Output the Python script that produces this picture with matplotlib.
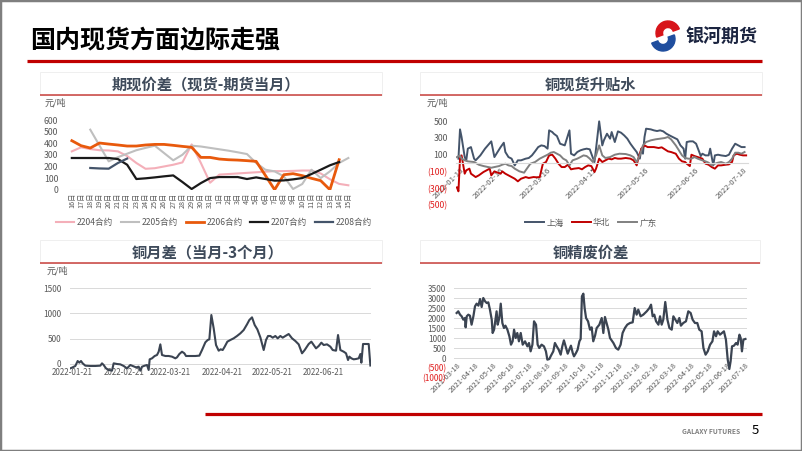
import numpy as np
import matplotlib
matplotlib.use('Agg')
import matplotlib.pyplot as plt
from matplotlib.lines import Line2D
from matplotlib.patches import Rectangle, Wedge

plt.rcParams['font.family'] = ['Noto Sans CJK SC', 'DejaVu Sans']
plt.rcParams['axes.unicode_minus'] = False

nan = np.nan

# ---------------- chart 1 : 期现价差 ----------------
cat1 = ['16日', '17日', '18日', '19日', '20日', '21日', '22日', '23日', '24日', '25日',
        '26日', '27日', '28日', '29日', '30日', '31日', '1日', '2日', '3日', '4日',
        '5日', '6日', '7日', '8日', '9日', '10日', '11日', '12日', '13日', '14日', '15日']
c2204 = [330, 365, 350, 340, 338, 330, 290, 230, 180, 185, 200, 215, 235, 390, 230, 60,
         130, 135, 140, 145, 150, 155, 160, 160, 162, 165, 165, 140, 90, 50, 38]
c2205 = [nan, nan, 517, 380, 244, 280, 310, 340, 360, 379, 316, 253, 301, 379, 372, 360,
         348, 336, 322, 307, 230, 172, 158, 115, 6, 49, 172, 100, 158, 230, 273]
c2206 = [422, 379, 359, 402, 393, 385, 376, 376, 385, 390, 390, 382, 373, 365, 278, 278,
         264, 258, 255, 250, 244, 123, 0, 129, 138, 121, 98, 78, 0, 258, nan]
c2207 = [273, 273, 273, 273, 273, 264, 215, 92, 98, 106, 115, 123, 66, 6, 57, 100,
         109, 109, 109, 92, 106, 92, 78, 80, 89, 100, 135, 172, 210, 238, nan]
c2208 = [nan, nan, 187, 183, 181, 230, 268, nan, nan, nan, nan, nan, nan, nan, nan, nan,
         nan, nan, nan, nan, nan, nan, nan, nan, nan, nan, nan, nan, nan, nan, nan]
names1 = ['2204合约', '2205合约', '2206合约', '2207合约', '2208合约']

# ---------------- chart 2 : 铜现货升贴水 (days from 2022-01-18) ----------------
sh_pts = [(-1, 52), (0, 401), (1, 309), (3, 71), (4, 32), (5, 171), (7, 190), (9, 52), (10, 32),
          (13, 91), (16, 171), (20, 258), (22, 71), (24, 131), (26, 190), (28, 242), (29, 131),
          (31, 71), (33, 52), (35, -28), (37, 32), (39, 32), (42, 52), (44, 60), (46, 91),
          (48, 139), (50, 190), (52, 210), (54, 202), (56, 171), (57, 389), (59, 369), (60, 349),
          (62, 321), (64, 230), (67, 210), (68, 270), (70, 389), (71, 111), (73, 91), (75, 131),
          (77, 151), (79, 163), (81, 171), (83, 163), (84, 111), (86, 12), (87, 171), (89, 496),
          (91, 210), (92, 270), (94, 349), (96, 290), (97, 369), (99, 250), (101, 377), (103, 361),
          (105, 329), (107, 290), (109, 230), (111, 179), (113, 131), (115, 52), (116, 171),
          (117, 111), (118, 310), (119, 409), (122, 401), (124, 389), (126, 381), (128, 389),
          (130, 377), (132, 349), (134, 329), (136, 310), (139, 282), (141, 210), (143, 171),
          (144, 52), (145, 250), (147, 258), (149, 258), (151, 230), (154, 83), (155, 111),
          (157, 91), (159, 91), (160, 171), (162, -28), (163, 91), (165, 99), (167, 91), (170, 83),
          (172, 99), (174, 171), (176, 230), (178, 210), (180, 190), (182, 190)]
hb_pts = [(-2, -290), (-1, -337), (0, 52), (1, 91), (3, -127), (4, -87), (6, -67), (7, -127),
          (10, -167), (12, -147), (15, -107), (17, -87), (19, -67), (20, -147), (22, -99),
          (23, -107), (26, -127), (27, -99), (29, -127), (31, -147), (33, -167), (35, -187),
          (37, -218), (39, -187), (42, -167), (44, -178), (47, -167), (49, -170), (51, -167),
          (53, -8), (55, 12), (57, 91), (59, 99), (61, 52), (63, -8), (65, -48), (67, -48),
          (69, -20), (71, -75), (73, -67), (76, -60), (78, -75), (80, -48), (82, -28), (84, -36),
          (86, -107), (87, -67), (89, 52), (91, 12), (93, 32), (95, 52), (97, 44), (99, 60),
          (101, 52), (103, 52), (106, 60), (109, 52), (111, 32), (113, -28), (114, 52), (116, 171),
          (118, 210), (120, 190), (124, 190), (127, 179), (129, 187), (131, 163), (133, 139),
          (135, 131), (138, 111), (140, 52), (142, 20), (144, 12), (145, -8), (147, -36), (148, 99),
          (150, 83), (152, 71), (155, 52), (157, -8), (159, -20), (161, -48), (163, -67), (165, -28),
          (167, -28), (170, -20), (172, -16), (174, 12), (175, 91), (177, 111), (179, 99), (181, 91),
          (183, 91)]
gd_pts = [(-2, 71), (0, 91), (1, 52), (3, 32), (5, 20), (9, 12), (12, -20), (15, -36), (18, -48),
          (20, -56), (22, -48), (25, -36), (27, -20), (29, -8), (31, -28), (33, -36), (35, -67),
          (38, -99), (41, -115), (42, -87), (45, -8), (48, 12), (51, 52), (53, 71), (56, 99),
          (58, 123), (60, 131), (62, 111), (64, 91), (66, 52), (68, 32), (70, -28), (72, 32),
          (75, 52), (77, 71), (79, 91), (81, 83), (83, 52), (85, 12), (87, 91), (89, 210), (91, 91),
          (93, 60), (96, 71), (99, 99), (102, 111), (106, 107), (109, 91), (111, 71), (113, 12),
          (115, 91), (117, 210), (119, 250), (122, 270), (125, 282), (128, 290), (131, 298),
          (133, 310), (135, 282), (138, 210), (140, 151), (142, 91), (144, 60), (146, 52),
          (148, 52), (150, 71), (152, 52), (155, 32), (157, 20), (159, 4), (161, -28), (163, -8),
          (165, 4), (167, 12), (170, -8), (172, 12), (174, 52), (176, 123), (178, 123), (180, 111),
          (182, 131)]
names2 = ['上海', '华北', '广东']
tick2_pos = [0, 25.6, 55.6, 85, 118, 150, 181]
tick2_lab = ['2022-01-18', '2022-02-16', '2022-03-16', '2022-04-15', '2022-05-16',
             '2022-06-16', '2022-07-18']

# ---------------- chart 3 : 铜月差 (days from 2022-01-21) ----------------
yc_pts = [(-1, -86), (0.4, -66), (2, -39), (3.4, 59), (4.4, 26), (5.4, 59), (6.4, 13), (8, -33),
          (11, -39), (14, -39), (17, -33), (18, 13), (19, -20), (20.4, -86), (22, -118),
          (24, -132), (25, 13), (27, 0), (29, -7), (31, -39), (33, -86), (35, -20), (36.4, -39),
          (38.4, -66), (40, -53), (41, -132), (42, -53), (43.6, -33), (45, -20), (46, -118),
          (46.6, 92), (48, 112), (49.6, 158), (51, 178), (52, 243), (53, 388), (54, 178), (56, 158),
          (58, 158), (60, 145), (62, 112), (63, 132), (64.4, 197), (66, 243), (67.4, 211),
          (68.4, 158), (71, 158), (74, 158), (76.4, 165), (78, 276), (80, 428), (81.4, 474),
          (82.4, 487), (83.6, 967), (85, 704), (86.4, 375), (88, 263), (89.2, 290), (90.4, 276),
          (91.6, 342), (93.2, 441), (95, 474), (97, 507), (99, 553), (101, 605), (103, 671),
          (105, 783), (106.4, 869), (108, 921), (109.6, 770), (111.2, 684), (113, 526), (115, 276),
          (116.4, 474), (117.6, 553), (119, 553), (120.4, 520), (122, 553), (123.4, 507),
          (125, 553), (126.4, 520), (128, 553), (130, 592), (132, 507), (134, 454), (136, 388),
          (138, 211), (139.6, 276), (142, 395), (143.6, 441), (145, 375), (146.4, 309), (148, 355),
          (149.6, 421), (151, 375), (153, 388), (155, 342), (156.4, 276), (158.4, 263),
          (159.6, 572), (161, 276), (163, 243), (164.4, 211), (165.6, 79), (166.4, 145),
          (167.6, 112), (169, 92), (170.4, 99), (172, 112), (173, 197), (173.6, 26), (174.6, 395),
          (176.4, 395), (178, 395), (179, -30)]
tick3_pos = [0, 31, 59, 90, 120, 151]
tick3_lab = ['2022-01-21', '2022-02-21', '2022-03-21', '2022-04-21', '2022-05-21', '2022-06-21']

# ---------------- chart 4 : 铜精废价差 (months from 2021-03-18) ----------------
jf_pts = [(-0.02, 2250), (0.07, 2334), (0.17, 2167), (0.26, 2084), (0.35, 1917), (0.44, 2000),
          (0.48, 1534), (0.54, 2084), (0.63, 2167), (0.72, 2117), (0.81, 1667), (0.91, 2084),
          (1.0, 2584), (1.09, 2717), (1.19, 2617), (1.28, 2950), (1.37, 2550), (1.46, 3000),
          (1.56, 2834), (1.65, 2750), (1.74, 2784), (1.83, 2417), (1.93, 1917), (1.98, 1250),
          (2.06, 1417), (2.11, 1750), (2.20, 2334), (2.26, 1667), (2.35, 2000), (2.43, 2717),
          (2.52, 1750), (2.61, 1500), (2.69, 1617), (2.80, 1417), (2.91, 1084), (3.0, 667),
          (3.09, 834), (3.17, 1417), (3.26, 1000), (3.35, 1250), (3.44, 834), (3.54, 1250),
          (3.65, 667), (3.78, 834), (3.91, 583), (4.0, 750), (4.09, 333), (4.19, 667), (4.28, 1834),
          (4.39, 1667), (4.48, 667), (4.57, 500), (4.70, 667), (4.83, 583), (4.94, 333),
          (5.02, -83), (5.13, -50), (5.22, 117), (5.35, 333), (5.44, 750), (5.54, 583), (5.65, 417),
          (5.76, 167), (5.85, 583), (5.94, 883), (6.06, 500), (6.15, 217), (6.24, 417), (6.33, 617),
          (6.43, 250), (6.5, 83), (6.61, 250), (6.70, 417), (6.80, 834), (6.87, 950), (6.94, 3084),
          (7.02, 3217), (7.09, 2500), (7.17, 2000), (7.28, 1834), (7.39, 1417), (7.48, 1534),
          (7.57, 834), (7.67, 1117), (7.76, 1500), (7.91, 1667), (7.94, 1750), (8.04, 2000),
          (8.13, 1250), (8.22, 2050), (8.31, 1750), (8.41, 1417), (8.5, 1000), (8.69, 750),
          (8.83, 500), (8.96, 417), (9.09, 667), (9.2, 1250), (9.33, 1500), (9.46, 1667),
          (9.61, 1750), (9.76, 1784), (9.87, 2500), (9.98, 2167), (10.07, 2417), (10.2, 2084),
          (10.35, 2167), (10.54, 2334), (10.69, 2500), (10.78, 2667), (10.87, 2084), (10.96, 2167),
          (11.06, 1834), (11.19, 1667), (11.28, 2084), (11.37, 1667), (11.46, 1917), (11.57, 2800),
          (11.69, 1917), (11.80, 1500), (11.93, 1417), (12.02, 2084), (12.13, 1917), (12.24, 1750),
          (12.35, 2000), (12.44, 1617), (12.57, 1750), (12.72, 1834), (12.85, 2334), (12.98, 2250),
          (13.09, 1917), (13.22, 1750), (13.35, 1750), (13.46, 1417), (13.59, 1334), (13.69, 500),
          (13.81, 167), (13.93, 333), (14.06, 667), (14.19, 834), (14.28, 1334), (14.39, 1084),
          (14.48, 1334), (14.61, 1167), (14.72, 1250), (14.83, 1334), (14.94, 917), (15.04, -83),
          (15.13, -550), (15.20, -167), (15.28, 583), (15.39, 617), (15.50, 750), (15.59, 667),
          (15.69, 1167), (15.76, 1000), (15.83, 333), (15.91, 917), (16.02, 950)]
tick4_lab = ['2021-03-18', '2021-04-18', '2021-05-18', '2021-06-18', '2021-07-18', '2021-08-18',
             '2021-09-18', '2021-10-18', '2021-11-18', '2021-12-18', '2022-01-18', '2022-02-18',
             '2022-03-18', '2022-04-18', '2022-05-18', '2022-06-18', '2022-07-18']

# ---------------- layout helpers ----------------
W, H = 802, 451
fig = plt.figure(figsize=(W / 100, H / 100), dpi=100)
fig.patch.set_facecolor('white')


def fx(x):
    return x / W


def fy(y):
    return 1 - y / H


def px_axes(l, t, r, b):
    return fig.add_axes([l / W, 1 - b / H, (r - l) / W, (b - t) / H])


def hline(x0, x1, y, color, lw):
    fig.add_artist(Line2D([fx(x0), fx(x1)], [fy(y), fy(y)], transform=fig.transFigure,
                          color=color, lw=lw, solid_capstyle='butt'))


TICK = '#595959'
TITLE = '#3F4B5B'
GRID = '#D9D9D9'
NEG = '#E02020'


def panel_title(x0, x1, ytop, yline, text, cx):
    fig.add_artist(Rectangle((fx(x0), fy(yline)), (x1 - x0) / W, (yline - ytop) / H,
                             transform=fig.transFigure, fill=False, edgecolor='#EDEDED', lw=0.6))
    hline(x0, x1, yline, '#C8403C', 1.1)
    fig.text(fx(cx), fy((ytop + yline) / 2 + 1), text, ha='center', va='center',
             fontsize=11, weight='bold', color=TITLE)


def base_style(ax):
    for s in ax.spines.values():
        s.set_visible(False)
    ax.tick_params(length=0, colors=TICK, labelsize=6)
    ax.set_facecolor('none')


def neg_fmt(vals):
    return [f'({abs(v)})' if v < 0 else f'{v}' for v in vals]


# ---------------- header / footer ----------------
fig.text(fx(30), fy(41), '国内现货方面边际走强', fontsize=18, weight='bold', va='center',
         ha='left', color='black')
hline(27, 762, 61, '#C00000', 2.3)
fig.add_artist(Wedge((668 / 100, (H - 33) / 100), 0.12, 20, 200, width=0.065,
                     transform=fig.dpi_scale_trans, color='#D7141A'))
fig.add_artist(Wedge((663 / 100, (H - 39) / 100), 0.12, 200, 380, width=0.065,
                     transform=fig.dpi_scale_trans, color='#1F4E9E'))
fig.text(fx(685), fy(36), '银河期货', fontsize=13, weight='bold', va='center', ha='left',
         color='#1B2440')
hline(205, 762, 414, '#C00000', 2.3)
fig.text(fx(740), fy(431), 'GALAXY FUTURES', fontsize=4.8, weight='bold', ha='right',
         va='center', color='#7F7F7F')
fig.text(fx(752), fy(431), '5', fontsize=9.5, ha='left', va='center', color='black')
fig.add_artist(Rectangle((0, 0), 1, 1, transform=fig.transFigure, fill=False,
                         edgecolor='#7F7F7F', lw=2.5))

# ---------------- chart 1 ----------------
panel_title(40, 382, 72, 95, '期现价差（现货-期货当月）', 206)
fig.text(fx(45), fy(103), '元/吨', fontsize=6.5, color=TICK, va='center')
ax1 = px_axes(70, 117.7, 370, 189.7)
base_style(ax1)
x1 = np.arange(len(cat1))
cols1 = ['#F4AFB9', '#BFBFBF', '#E8590C', '#1A1A1A', '#44546A']
lws1 = [1.5, 1.5, 2.0, 1.6, 1.6]
for ser, c, lw, nm in zip([c2204, c2205, c2206, c2207, c2208], cols1, lws1, names1):
    ax1.plot(x1, ser, color=c, lw=lw, label=nm)
ax1.axhline(0, color=GRID, lw=0.8, zorder=0)
ax1.set_xlim(-0.2, 32.35)
ax1.set_ylim(0, 620)
ax1.set_yticks([0, 100, 200, 300, 400, 500, 600])
ax1.tick_params(axis='y', pad=8.5, labelsize=6.3)
ax1.set_xticks(x1)
ax1.set_xticklabels(cat1, rotation=90, fontsize=5.2)
ax1.tick_params(axis='x', pad=2)
ax1.legend(loc='center', bbox_to_anchor=(fx(214), fy(223)), bbox_transform=fig.transFigure,
           ncol=5, frameon=False, fontsize=6.2, handlelength=2.1, columnspacing=0.9,
           handletextpad=0.3, labelcolor=TICK)

# ---------------- chart 2 ----------------
panel_title(420, 762, 72, 95, '铜现货升贴水', 590)
fig.text(fx(427), fy(103), '元/吨', fontsize=6.5, color=TICK, va='center')
ax2 = px_axes(456.1, 116, 747.7, 206.7)
base_style(ax2)
cols2 = ['#44546A', '#C00000', '#808080']
for pts, c, nm in zip([sh_pts, hb_pts, gd_pts], cols2, names2):
    xs, ys = zip(*pts)
    ax2.plot(xs, ys, color=c, lw=1.4, label=nm)
ax2.spines['bottom'].set_visible(True)
ax2.spines['bottom'].set_position(('data', 0))
ax2.spines['bottom'].set_color(GRID)
ax2.spines['bottom'].set_linewidth(0.8)
ax2.set_xlim(-2.5, 184)
ax2.set_ylim(-520, 560)
yt2 = [-500, -300, -100, 100, 300, 500]
ax2.set_yticks(yt2)
ax2.set_yticklabels(neg_fmt(yt2))
for lab, v in zip(ax2.get_yticklabels(), yt2):
    if v < 0:
        lab.set_color(NEG)
ax2.tick_params(axis='y', pad=6, labelsize=6.3)
ax2.set_xticks(tick2_pos)
ax2.set_xticklabels(tick2_lab, rotation=45, ha='right', rotation_mode='anchor', fontsize=5.6)
ax2.tick_params(axis='x', pad=2)
ax2.legend(loc='center', bbox_to_anchor=(fx(591), fy(223)), bbox_transform=fig.transFigure,
           ncol=3, frameon=False, fontsize=6.2, handlelength=2.2, columnspacing=0.9,
           handletextpad=0.3, labelcolor=TICK)

# ---------------- chart 3 ----------------
panel_title(40, 382, 240, 263, '铜月差（当月-3个月）', 208)
fig.text(fx(47), fy(271), '元/吨', fontsize=6.5, color=TICK, va='center')
ax3 = px_axes(69.5, 285, 371.2, 372.1)
base_style(ax3)
xs, ys = zip(*yc_pts)
ax3.plot(xs, ys, color='#3B4452', lw=1.5)
for g in [0, 500, 1000, 1500]:
    ax3.axhline(g, color=GRID, lw=0.7, zorder=0)
ax3.spines['bottom'].set_position(('data', 0))
ax3.set_xlim(-1.5, 179.5)
ax3.set_ylim(-160, 1560)
ax3.set_yticks([0, 500, 1000, 1500])
ax3.tick_params(axis='y', pad=6)
ax3.set_xticks(tick3_pos)
ax3.set_xticklabels(tick3_lab, fontsize=5.8)
ax3.tick_params(axis='x', pad=3)

# ---------------- chart 4 ----------------
panel_title(420, 760, 240, 263, '铜精废价差', 591)
ax4 = px_axes(454.3, 286, 746.8, 378)
base_style(ax4)
xs, ys = zip(*jf_pts)
ax4.plot(xs, ys, color='#3B4452', lw=1.6)
for g in [0, 500, 1000, 1500, 2000, 2500, 3000, 3500]:
    ax4.axhline(g, color=GRID, lw=0.7, zorder=0)
ax4.spines['bottom'].set_position(('data', 0))
ax4.set_xlim(-0.15, 16.1)
ax4.set_ylim(-1000, 3600)
yt4 = [-1000, -500, 0, 500, 1000, 1500, 2000, 2500, 3000, 3500]
ax4.set_yticks(yt4)
ax4.set_yticklabels(neg_fmt(yt4))
for lab, v in zip(ax4.get_yticklabels(), yt4):
    if v < 0:
        lab.set_color(NEG)
ax4.tick_params(axis='y', pad=6)
ax4.set_xticks(np.arange(len(tick4_lab)))
ax4.set_xticklabels(tick4_lab, rotation=45, ha='right', rotation_mode='anchor', fontsize=5.4)
ax4.tick_params(axis='x', pad=2)

fig.savefig('out.png', dpi=100, facecolor='white')
